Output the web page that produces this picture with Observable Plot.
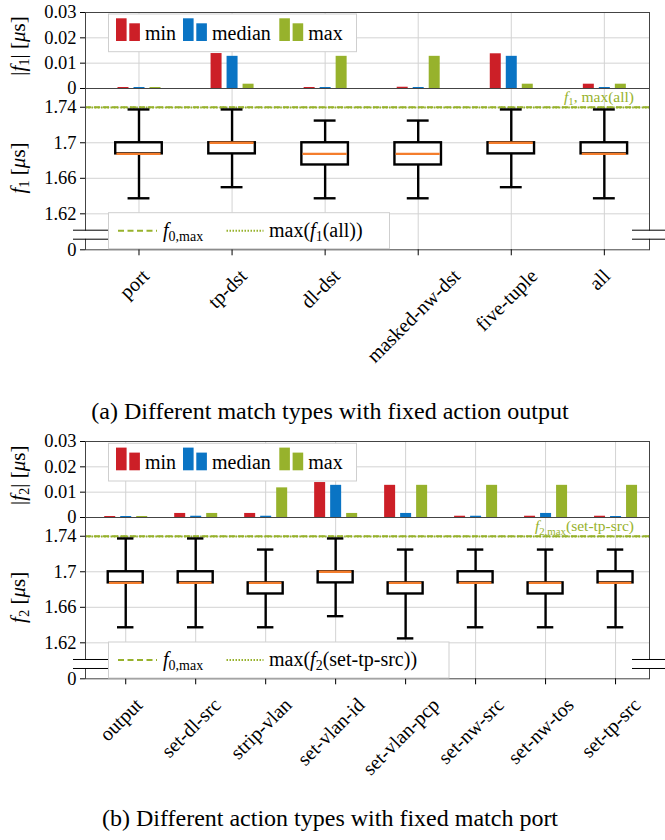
<!DOCTYPE html>
<html><head><meta charset="utf-8">
<script src="https://cdn.jsdelivr.net/npm/d3@7"></script>
<script src="https://cdn.jsdelivr.net/npm/@observablehq/plot@0.6"></script>
<style>
body{margin:0;background:#fff;}
#root{position:relative;width:665px;height:840px;overflow:hidden;background:#fff;font-family:"Liberation Serif","DejaVu Serif",serif;}
#root svg{position:absolute;left:0;overflow:visible;max-width:none;}
</style></head>
<body><div id="root"></div>
<script>
// ---------- data: (a) match types, fixed action output ----------
const matchTypes = ["port", "tp-dst", "dl-dst", "masked-nw-dst", "five-tuple", "all"];
const matchAbsMin    = [0.0004, 0.0138, 0.0004, 0.0005, 0.0137, 0.0017];
const matchAbsMedian = [0.0004, 0.0127, 0.0004, 0.0004, 0.0127, 0.0004];
const matchAbsMax    = [0.0004, 0.0017, 0.0127, 0.0127, 0.0017, 0.0017];
const matchLo  = [1.6375, 1.65,   1.6375, 1.6375, 1.65,   1.6375];
const matchQ1  = [1.6875, 1.6875, 1.675,  1.675,  1.6875, 1.6875];
const matchMed = [1.6875, 1.70,   1.6875, 1.6875, 1.70,   1.6875];
const matchQ3  = [1.70,   1.70,   1.70,   1.70,   1.70,   1.70];
const matchHi  = [1.7375, 1.7375, 1.725,  1.725,  1.7375, 1.7375];
const matchF0Max = 1.74;
const matchMaxAll = 1.7397;

// ---------- data: (b) action types, fixed match port ----------
const actionTypes = ["output", "set-dl-src", "strip-vlan", "set-vlan-id", "set-vlan-pcp", "set-nw-src", "set-nw-tos", "set-tp-src"];
const actionAbsMin    = [0.0004, 0.0016, 0.0016, 0.0138, 0.0127, 0.0005, 0.0005, 0.0005];
const actionAbsMedian = [0.0004, 0.0005, 0.0005, 0.0127, 0.0016, 0.0005, 0.0016, 0.0004];
const actionAbsMax    = [0.0004, 0.0016, 0.0117, 0.0016, 0.0127, 0.0127, 0.0127, 0.0127];
const actionLo  = [1.6375, 1.6375, 1.6375, 1.65,   1.625,  1.6375, 1.6375, 1.6375];
const actionQ1  = [1.6875, 1.6875, 1.675,  1.6875, 1.675,  1.6875, 1.675,  1.6875];
const actionMed = [1.6875, 1.6875, 1.6875, 1.70,   1.6875, 1.6875, 1.6875, 1.6875];
const actionQ3  = [1.70,   1.70,   1.6875, 1.70,   1.6875, 1.70,   1.6875, 1.70];
const actionHi  = [1.7375, 1.7375, 1.725,  1.7375, 1.725,  1.725,  1.725,  1.725];
const actionF0Max = 1.74;
const actionMaxTpSrc = 1.7397;

// ---------- tick labels ----------
const barTicks = [0, 0.01, 0.02, 0.03];
const boxTicks = [1.62, 1.66, 1.7, 1.74];
const seriesNames = ["min", "median", "max"];

// ---------- styling ----------
const W = 665;
const red = "#cc1f27", blue = "#0a74c4", green = "#97b22c", orange = "#f47d2c";
const gridColor = "#d3d3d3";
const serif = "Liberation Serif, DejaVu Serif, serif";
const tickSize = 18.5, labelSize = 20, legendSize = 20, titleSize = 21;
const root = document.getElementById("root");

function measure(text, size) {
  const c = measure.c || (measure.c = document.createElement("canvas").getContext("2d"));
  c.font = `${size}px "Liberation Serif", "DejaVu Serif", serif`;
  return c.measureText(text).width;
}
function place(svg, top) {
  svg.style.top = top + "px";
  root.appendChild(svg);
}
function richText(sel, x, y, parts, size, attrs = {}) {
  const t = sel.append("text").attr("x", x).attr("y", y)
    .style("font-family", serif).attr("font-size", size);
  for (const [k, v] of Object.entries(attrs)) t.attr(k, v);
  let prevSub = false;
  for (const p of parts) {
    const ts = t.append("tspan").text(p.t);
    if (p.italic) ts.attr("font-style", "italic");
    if (p.sub) { ts.attr("font-size", size * 0.7); if (!prevSub) ts.attr("dy", size * 0.22); }
    else if (prevSub) ts.attr("dy", -size * 0.22);
    prevSub = !!p.sub;
  }
  return t;
}

const overlay = d3.select(root).append("svg").attr("width", W).attr("height", 840)
  .style("top", "0px").style("z-index", 5).style("font-family", serif);

function panel(cfg) {
  const {top, cats, absMin, absMedian, absMax, lo, q1, med, q3, hi, f0max, fmax} = cfg;
  const I = d3.range(cats.length);
  const mL = 85, mR = 16;
  const xOpt = {type: "band", domain: cats, paddingInner: 0.5, paddingOuter: 0.28, align: 0.58, round: false, axis: null};
  const bw = (W - mL - mR) * 0.5 / (cats.length - 0.5 + 0.56);
  const capInset = bw * 0.265;
  const style = {fontFamily: serif, background: "none", color: "#000"};

  // ---- upper: |f| bars ----
  const bars = Plot.plot({
    width: W, height: 89, marginTop: 12, marginBottom: 1, marginLeft: mL, marginRight: mR,
    style, x: xOpt,
    y: {domain: [0, 0.03], axis: null},
    marks: [
      Plot.gridY(barTicks.slice(1, -1), {stroke: gridColor, strokeOpacity: 1}),
      Plot.gridX(cats, {stroke: gridColor, strokeOpacity: 1}),
      Plot.ruleX(I, {x: i => cats[i], y1: 0, y2: i => absMin[i], stroke: red, strokeWidth: 11, dx: -16}),
      Plot.ruleX(I, {x: i => cats[i], y1: 0, y2: i => absMedian[i], stroke: blue, strokeWidth: 11}),
      Plot.ruleX(I, {x: i => cats[i], y1: 0, y2: i => absMax[i], stroke: green, strokeWidth: 11, dx: 16}),
      Plot.frame({stroke: "#444"}),
      Plot.ruleY([0], {stroke: "#000", strokeWidth: 1.2}),
      Plot.axisY(barTicks, {tickFormat: d => d === 0 ? "0" : d.toFixed(2), tickSize: 5, tickPadding: 4, fontSize: tickSize, label: null})
    ]
  });
  place(bars, top);

  // ---- lower: box plots ----
  const boxH = 300, frameH = 161.3;
  const yMin = 1.5795, yMax = 1.7611;
  const marks = [
    Plot.gridY(boxTicks, {stroke: gridColor, strokeOpacity: 1}),
    Plot.gridX(cats, {stroke: gridColor, strokeOpacity: 1}),
    Plot.ruleY([f0max], {stroke: green, strokeWidth: 2.2, strokeDasharray: "6,3"}),
    Plot.ruleY([fmax], {stroke: green, strokeWidth: 2.2, strokeDasharray: "1.6,1.6"}),
    Plot.ruleX(I, {x: i => cats[i], y1: i => lo[i], y2: i => hi[i], stroke: "#000", strokeWidth: 2.4}),
    Plot.tickY(I, {x: i => cats[i], y: i => lo[i], stroke: "#000", strokeWidth: 2.4, insetLeft: capInset, insetRight: capInset}),
    Plot.tickY(I, {x: i => cats[i], y: i => hi[i], stroke: "#000", strokeWidth: 2.4, insetLeft: capInset, insetRight: capInset}),
    Plot.barY(I, {x: i => cats[i], y1: i => q1[i], y2: i => q3[i], fill: "#fff", stroke: "#000", strokeWidth: 2.4}),
    Plot.tickY(I, {x: i => cats[i], y: i => med[i], stroke: orange, strokeWidth: 2.4, insetLeft: 1.2, insetRight: 1.2}),
    Plot.frame({stroke: "#444"}),
    Plot.axisY([yMin, ...boxTicks], {tickFormat: d => d < 1.6 ? "0" : String(d), tickSize: 5, tickPadding: 4, fontSize: tickSize, label: null}),
    Plot.axisX({tickSize: 6, tickFormat: () => "", label: null}),
    ...cats.map(c => {
      const L = measure(c, labelSize);
      return Plot.text([c], {x: d => d, frameAnchor: "bottom", rotate: -45, textAnchor: "middle",
        fontSize: labelSize, dy: 21 + 0.354 * L + 0.32 * labelSize});
    })
  ];
  const box = Plot.plot({
    width: W, height: boxH, marginTop: 0, marginBottom: boxH - frameH, marginLeft: mL, marginRight: mR,
    style, x: xOpt, y: {domain: [yMin, yMax], axis: null}, marks
  });
  place(box, top + 88);

  // ---- overlays ----
  const g = overlay.append("g").attr("transform", `translate(0,${top})`);
  // axis break marks
  for (const [x1, x2, gx] of [[73, 110, 80], [632, 665, 644]]) {
    g.append("rect").attr("x", gx).attr("y", 230.6).attr("width", 10).attr("height", 8.2).attr("fill", "#fff");
    g.append("line").attr("x1", x1).attr("x2", x2).attr("y1", 230.2).attr("y2", 230.2).attr("stroke", "#000").attr("stroke-width", 1);
    g.append("line").attr("x1", x1).attr("x2", x2).attr("y1", 239.2).attr("y2", 239.2).attr("stroke", "#000").attr("stroke-width", 1);
  }
  // bar legend
  g.append("rect").attr("x", 108.5).attr("y", 14).attr("width", 248).attr("height", 37.7)
    .attr("fill", "#fff").attr("stroke", "#cfcfcf").attr("stroke-width", 1);
  const legendX = [116, 183, 279.3];
  [red, blue, green].forEach((col, k) => {
    const x0 = legendX[k];
    g.append("rect").attr("x", x0).attr("y", 18.3).attr("width", 10.6).attr("height", 22.7).attr("fill", col);
    g.append("rect").attr("x", x0 + 13.3).attr("y", 23.3).attr("width", 10.6).attr("height", 17.7).attr("fill", col);
    g.append("text").attr("x", x0 + 29).attr("y", 39.5).style("font-family", serif).attr("font-size", legendSize).text(seriesNames[k]);
  });
  // line legend
  g.append("rect").attr("x", 108.5).attr("y", 212.7).attr("width", cfg.legendW).attr("height", 36)
    .attr("fill", "#fff").attr("stroke", "#cfcfcf").attr("stroke-width", 1);
  g.append("line").attr("x1", 118).attr("x2", 157).attr("y1", 230.7).attr("y2", 230.7)
    .attr("stroke", green).attr("stroke-width", 2).attr("stroke-dasharray", "6,3.5");
  richText(g, 163, 236.5, [{t: "f", italic: true}, {t: "0,max", sub: true}], legendSize);
  g.append("line").attr("x1", 226.5).attr("x2", 263.5).attr("y1", 230.7).attr("y2", 230.7)
    .attr("stroke", green).attr("stroke-width", 2).attr("stroke-dasharray", "1.5,1.5");
  richText(g, 269, 236.5, cfg.legendText, legendSize);
  // annotation on the max line
  richText(g, 634, 102, cfg.annot, 15.5, {"text-anchor": "end", fill: green});
  // y titles
  richText(g, 0, 0, [{t: "|"}, {t: "f", italic: true}, {t: cfg.n, sub: true}, {t: "| ["}, {t: "μ", italic: true}, {t: "s]"}], titleSize,
    {"text-anchor": "middle", transform: `translate(24.5,46) rotate(-90)`});
  richText(g, 0, 0, [{t: "f", italic: true}, {t: cfg.n, sub: true}, {t: " ["}, {t: "μ", italic: true}, {t: "s]"}], titleSize,
    {"text-anchor": "middle", transform: `translate(24.5,168) rotate(-90)`});
  // caption
  overlay.append("text").attr("x", 330).attr("y", cfg.captionY).attr("text-anchor", "middle")
    .style("font-family", serif).attr("font-size", 24).text(cfg.caption);
}

panel({
  top: 0, cats: matchTypes, absMin: matchAbsMin, absMedian: matchAbsMedian, absMax: matchAbsMax,
  lo: matchLo, q1: matchQ1, med: matchMed, q3: matchQ3, hi: matchHi, f0max: matchF0Max, fmax: matchMaxAll,
  n: "1", legendW: 281,
  legendText: [{t: "max("}, {t: "f", italic: true}, {t: "1", sub: true}, {t: "(all))"}],
  annot: [{t: "f", italic: true}, {t: "1", sub: true}, {t: ", max(all)"}],
  caption: "(a) Different match types with fixed action output", captionY: 419
});
panel({
  top: 429.3, cats: actionTypes, absMin: actionAbsMin, absMedian: actionAbsMedian, absMax: actionAbsMax,
  lo: actionLo, q1: actionQ1, med: actionMed, q3: actionQ3, hi: actionHi, f0max: actionF0Max, fmax: actionMaxTpSrc,
  n: "2", legendW: 340.5,
  legendText: [{t: "max("}, {t: "f", italic: true}, {t: "2", sub: true}, {t: "(set-tp-src))"}],
  annot: [{t: "f", italic: true}, {t: "2,max", sub: true}, {t: "(set-tp-src)"}],
  caption: "(b) Different action types with fixed match port", captionY: 826
});
</script>
</body></html>
